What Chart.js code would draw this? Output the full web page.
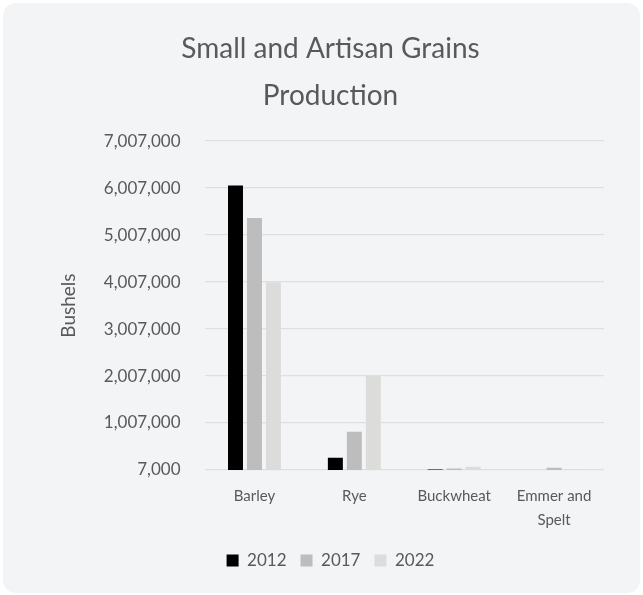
<!DOCTYPE html>
<html>
<head>
<meta charset="utf-8">
<script src="https://cdn.jsdelivr.net/npm/chart.js@4.4.1/dist/chart.umd.min.js"></script>
<style>
  html, body { margin: 0; padding: 0; background: #ffffff; }
  #card {
    position: absolute; left: 3px; top: 3px; width: 637px; height: 590px;
    background: #f3f4f6; border-radius: 13px; overflow: hidden;
  }
  #chart { display: block; }
</style>
</head>
<body>
<div id="card"><canvas id="chart" width="637" height="590"></canvas></div>
<script>
// chart data
const categories = ['Barley', 'Rye', 'Buckwheat', ['Emmer and', 'Spelt']];
const seriesNames = ['2012', '2017', '2022'];
const values2012 = [6060000, 270000, 15000, 9000];
const values2017 = [5370000, 820000, 40000, 55000];
const values2022 = [4005000, 2005000, 75000, 15000];
const yTicksMin = 7000;
const yTicksMax = 7007000;
const yStep = 1000000;

const textColor = '#595959';
const fontName = 'Lato, "Open Sans", sans-serif';
const barColors = ['#000000', '#bdbdbd', '#dcdcda'];

Chart.defaults.font.family = fontName;
Chart.defaults.color = textColor;

const seriesValues = [values2012, values2017, values2022];

const datasets = seriesNames.map((name, i) => ({
    label: name,
    data: seriesValues[i],
    backgroundColor: barColors[i],
    borderWidth: 0,
    categoryPercentage: 0.57,
    barPercentage: 0.79
}));

const ctx = document.getElementById('chart');
const myChart = new Chart(ctx, {
    type: 'bar',
    data: {
        labels: categories,
        datasets: datasets
    },
    options: {
        responsive: false,
        animation: false,
        layout: {
            padding: { left: 54, right: 36, top: 22, bottom: 14 }
        },
        plugins: {
            title: {
                display: true,
                text: ['Small and Artisan Grains', 'Production'],
                color: textColor,
                font: { size: 28, weight: 'normal', lineHeight: 1.68 },
                padding: { top: 0, bottom: 22 }
            },
            legend: {
                position: 'bottom',
                labels: {
                    boxWidth: 12,
                    boxHeight: 12,
                    padding: 14,
                    color: textColor,
                    font: { size: 17 }
                }
            },
            tooltip: { enabled: false }
        },
        scales: {
            x: {
                grid: { display: false },
                border: { display: false },
                ticks: {
                    color: textColor,
                    font: { size: 15, lineHeight: 1.6 },
                    padding: 6,
                    maxRotation: 0
                }
            },
            y: {
                min: yTicksMin,
                max: yTicksMax,
                ticks: {
                    stepSize: yStep,
                    color: textColor,
                    font: { size: 17 },
                    padding: 24,
                    callback: v => Number(v).toLocaleString('en-US')
                },
                grid: { color: '#dedfe0', lineWidth: 1.2, drawTicks: false },
                border: { display: false },
                title: {
                    display: true,
                    text: 'Bushels',
                    color: textColor,
                    font: { size: 19 },
                    padding: { top: 0, bottom: 0 }
                }
            }
        }
    }
});
</script>
</body>
</html>
